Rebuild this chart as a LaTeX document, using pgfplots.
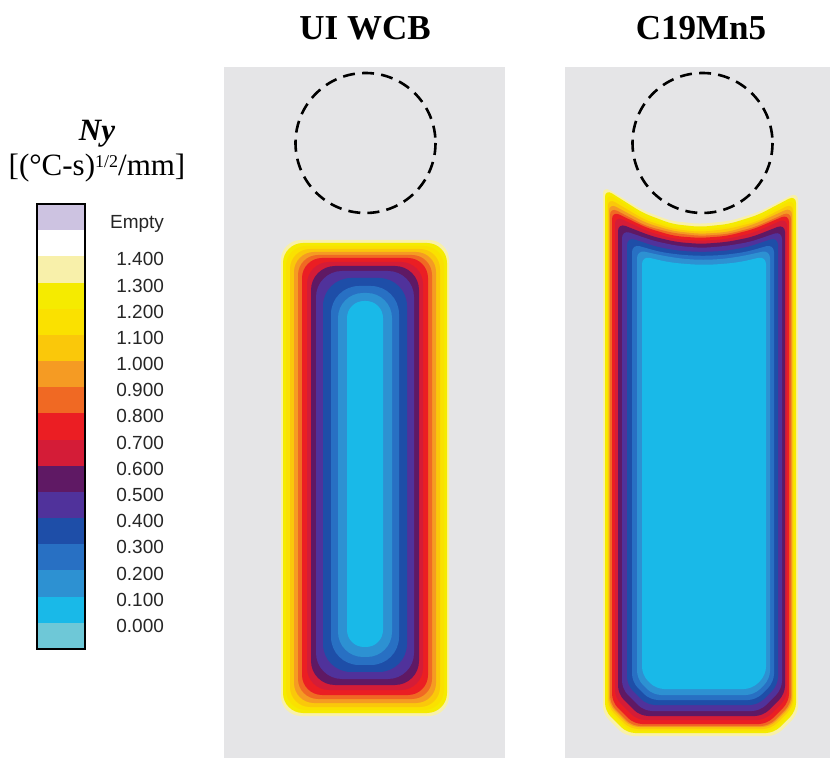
\documentclass[border=0pt]{standalone}
\usepackage{fontspec}
\setmainfont{Liberation Serif}
\newfontfamily\arial{Liberation Sans}
\usepackage{pgfplots}
\pgfplotsset{compat=1.18}

% colour of each Ny band, from lowest (below 0) to "Empty"
\definecolor{b0}{RGB}{110,200,215}
\definecolor{b1}{RGB}{25,185,232}
\definecolor{b2}{RGB}{45,145,210}
\definecolor{b3}{RGB}{40,112,195}
\definecolor{b4}{RGB}{30,78,168}
\definecolor{b5}{RGB}{80,50,155}
\definecolor{b6}{RGB}{95,25,100}
\definecolor{b7}{RGB}{212,28,55}
\definecolor{b8}{RGB}{235,30,35}
\definecolor{b9}{RGB}{240,105,35}
\definecolor{b10}{RGB}{245,155,35}
\definecolor{b11}{RGB}{250,200,10}
\definecolor{b12}{RGB}{250,225,0}
\definecolor{b13}{RGB}{245,235,0}
\definecolor{b14}{RGB}{248,240,170}
\definecolor{b15}{RGB}{255,255,255}
\definecolor{b16}{RGB}{205,195,225}
\definecolor{panelgray}{RGB}{229,229,231}

% rounded rectangular iso-contour: colour, left, right, top, bottom, corner radius
\newcommand{\rrect}[6]{\addplot[fill=#1, draw=none, rounded corners=#6]
  coordinates {(#2,480) (#2,#4) (#3,#4) (#3,#5) (#2,#5)} -- cycle;}

\begin{document}
\begin{tikzpicture}

% ---------- casting sections (pixel-like coordinates, y downwards) ----------
\begin{axis}[
  at={(0pt,0pt)}, anchor=south west,
  width=415pt, height=379pt, scale only axis,
  xmin=0, xmax=830, ymin=0, ymax=758, y dir=reverse,
  hide axis,
]
\addplot[fill=white, draw=none] coordinates {(0,0) (830,0) (830,758) (0,758)} -- cycle;

% section backgrounds
\addplot[fill=panelgray, draw=none] coordinates {(224,67) (505,67) (505,758) (224,758)} -- cycle;
\addplot[fill=panelgray, draw=none] coordinates {(565,67) (830,67) (830,758) (565,758)} -- cycle;

% UI WCB: Ny contours, outermost (1.4) to innermost (0.1)
\rrect{b14}{281}{449}{240}{716}{10pt}
\rrect{b13}{283}{447}{243}{713}{10pt}
\rrect{b12}{286}{444}{246}{710}{10pt}
\rrect{b11}{290}{440}{249}{707}{10pt}
\rrect{b10}{294}{436}{252}{703}{10pt}
\rrect{b9}{298}{432}{255}{699}{10pt}
\rrect{b8}{302}{428}{258}{695}{10pt}
\rrect{b7}{307}{423}{262}{690}{11pt}
\rrect{b6}{311}{419}{266}{685}{12pt}
\rrect{b5}{316}{414}{271}{679}{13pt}
\rrect{b4}{323}{407}{278}{672}{14pt}
\rrect{b3}{331}{399}{286}{665}{14pt}
\rrect{b2}{338}{392}{293}{657}{12.5pt}
\rrect{b1}{347}{383}{301}{647}{8.5pt}

% C19Mn5: Ny contours with concave top under the riser
\addplot[fill=b14, draw=none, rounded corners=4pt] coordinates {(603,480) (603,186) (642,210) (671,221) (700,224) (730,221) (759,212) (798,192) (798,714) (776,736) (625,736) (603,714)} -- cycle;
\addplot[fill=b13, draw=none, rounded corners=4pt] coordinates {(605,480) (605,189) (643,213) (672,224) (700,227) (729,224) (758,215) (796,195) (796,711) (774,733) (627,733) (605,711)} -- cycle;
\addplot[fill=b12, draw=none, rounded corners=4pt] coordinates {(607,480) (607,193) (644,217) (672,227) (700,230) (729,227) (757,219) (794,199) (794,709) (772,731) (629,731) (607,709)} -- cycle;
\addplot[fill=b11, draw=none, rounded corners=4pt] coordinates {(608,480) (608,198) (645,220) (673,229) (700,232) (728,229) (756,222) (793,203) (793,707) (771,729) (630,729) (608,707)} -- cycle;
\addplot[fill=b10, draw=none, rounded corners=4pt] coordinates {(609,480) (609,203) (646,223) (673,231) (700,234) (728,232) (755,224) (792,207) (792,705) (770,727) (631,727) (609,705)} -- cycle;
\addplot[fill=b9, draw=none, rounded corners=4pt] coordinates {(610,480) (610,207) (646,226) (673,233) (700,236) (728,234) (755,227) (791,211) (791,704) (769,726) (632,726) (610,704)} -- cycle;
\addplot[fill=b8, draw=none, rounded corners=4pt] coordinates {(612,480) (612,211) (647,228) (674,236) (700,238) (727,236) (754,229) (789,214) (789,702) (767,724) (634,724) (612,702)} -- cycle;
\addplot[fill=b7, draw=none, rounded corners=4pt] coordinates {(615,480) (615,216) (649,232) (675,239) (701,241) (727,239) (753,233) (787,218) (787,698) (765,720) (637,720) (615,698)} -- cycle;
\addplot[fill=b6, draw=none, rounded corners=4pt] coordinates {(618,480) (618,223) (651,236) (676,242) (701,244) (727,242) (752,237) (785,224) (785,694) (763,716) (640,716) (618,694)} -- cycle;
\addplot[fill=b5, draw=none, rounded corners=4pt] coordinates {(622,480) (622,230) (654,241) (678,246) (702,248) (726,246) (750,242) (782,231) (782,689) (760,711) (644,711) (622,689)} -- cycle;
\addplot[fill=b4, draw=none, rounded corners=4pt] coordinates {(627,480) (627,237) (657,247) (680,251) (702,252) (725,251) (748,247) (778,237) (778,685) (758,705) (647,705) (627,685)} -- cycle;
\addplot[fill=b3, draw=none, rounded corners=4pt] coordinates {(632,480) (632,244) (660,252) (682,255) (703,256) (724,255) (746,252) (774,244) (774,682) (756,700) (650,700) (632,682)} -- cycle;
\addplot[fill=b2, draw=none, rounded corners=4pt] coordinates {(637,480) (637,250) (664,256) (684,259) (703,260) (723,259) (743,256) (770,250) (770,679) (754,695) (653,695) (637,679)} -- cycle;
\addplot[fill=b1, draw=none, rounded corners=4pt] coordinates {(642,480) (642,256) (667,262) (685,264) (704,265) (723,264) (741,262) (766,256) (766,675) (752,689) (656,689) (642,675)} -- cycle;

% riser outlines
\draw[black, line width=1.3pt, dash pattern=on 6pt off 3.6pt] (axis cs:365.5,143) circle[radius=70];
\draw[black, line width=1.3pt, dash pattern=on 6pt off 3.6pt] (axis cs:702.5,143) circle[radius=70];

% titles
\node[font=\bfseries\fontsize{17.5}{20}\selectfont, anchor=base] at (axis cs:365,40) {UI WCB};
\node[font=\bfseries\fontsize{17.5}{20}\selectfont, anchor=base] at (axis cs:701,40) {C19Mn5};

% colour bar heading
\node[font=\bfseries\itshape\fontsize{15.5}{18}\selectfont, anchor=base] at (axis cs:97,141) {Ny};
\node[font=\fontsize{15.5}{18}\selectfont, anchor=base] at (axis cs:97,176) {[(°C-s)\raisebox{4.2pt}{\fontsize{9}{10}\selectfont 1/2}/mm]};
\end{axis}

% ---------- colour bar ----------
\begin{axis}[
  at={(18.5pt,54.5pt)}, anchor=south west,
  width=24pt, height=222.5pt, scale only axis,
  xmin=0, xmax=1, ymin=0, ymax=17,
  axis line style={line width=0.8pt, black},
  xtick=\empty,
  ytick={1,2,3,4,5,6,7,8,9,10,11,12,13,14,15,16.35},
  yticklabels={0.000,0.100,0.200,0.300,0.400,0.500,0.600,0.700,0.800,0.900,1.000,1.100,1.200,1.300,1.400,Empty},
  ytick pos=right, major tick length=0pt,
  yticklabel style={anchor=east, xshift=43pt, yshift=-1.5pt, text=black!85, font=\arial\fontsize{9.5}{11}\selectfont},
  axis on top,
]
\addplot[fill=b0, draw=none] coordinates {(0,0) (1,0) (1,1) (0,1)} -- cycle;
\addplot[fill=b1, draw=none] coordinates {(0,1) (1,1) (1,2) (0,2)} -- cycle;
\addplot[fill=b2, draw=none] coordinates {(0,2) (1,2) (1,3) (0,3)} -- cycle;
\addplot[fill=b3, draw=none] coordinates {(0,3) (1,3) (1,4) (0,4)} -- cycle;
\addplot[fill=b4, draw=none] coordinates {(0,4) (1,4) (1,5) (0,5)} -- cycle;
\addplot[fill=b5, draw=none] coordinates {(0,5) (1,5) (1,6) (0,6)} -- cycle;
\addplot[fill=b6, draw=none] coordinates {(0,6) (1,6) (1,7) (0,7)} -- cycle;
\addplot[fill=b7, draw=none] coordinates {(0,7) (1,7) (1,8) (0,8)} -- cycle;
\addplot[fill=b8, draw=none] coordinates {(0,8) (1,8) (1,9) (0,9)} -- cycle;
\addplot[fill=b9, draw=none] coordinates {(0,9) (1,9) (1,10) (0,10)} -- cycle;
\addplot[fill=b10, draw=none] coordinates {(0,10) (1,10) (1,11) (0,11)} -- cycle;
\addplot[fill=b11, draw=none] coordinates {(0,11) (1,11) (1,12) (0,12)} -- cycle;
\addplot[fill=b12, draw=none] coordinates {(0,12) (1,12) (1,13) (0,13)} -- cycle;
\addplot[fill=b13, draw=none] coordinates {(0,13) (1,13) (1,14) (0,14)} -- cycle;
\addplot[fill=b14, draw=none] coordinates {(0,14) (1,14) (1,15) (0,15)} -- cycle;
\addplot[fill=b15, draw=none] coordinates {(0,15) (1,15) (1,16) (0,16)} -- cycle;
\addplot[fill=b16, draw=none] coordinates {(0,16) (1,16) (1,17) (0,17)} -- cycle;
\end{axis}

\end{tikzpicture}
\end{document}
